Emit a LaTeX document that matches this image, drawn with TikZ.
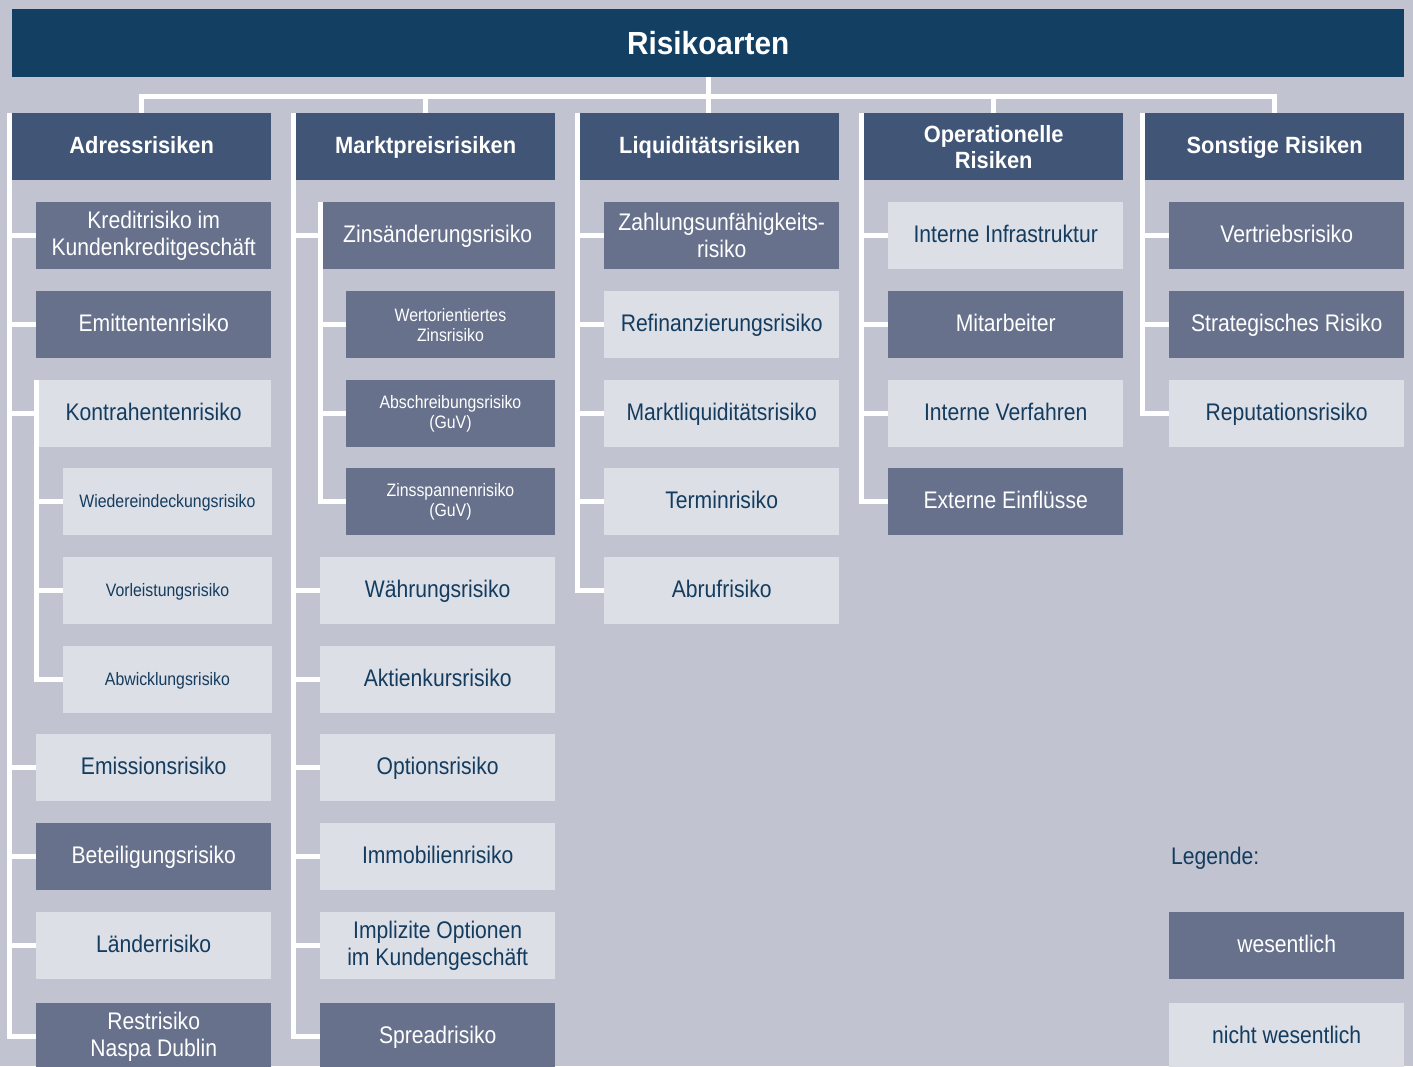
\documentclass[tikz,border=0pt]{standalone}
\usepackage{fontspec}
\setmainfont{Liberation Sans}[FakeStretch=0.88]
\newfontfamily\hdrfont{Liberation Sans}[FakeStretch=0.93]
\definecolor{cbg}{RGB}{193,195,208}
\definecolor{ctitle}{RGB}{19,63,99}
\definecolor{chdr}{RGB}{65,86,119}
\definecolor{cdark}{RGB}{103,113,140}
\definecolor{clight}{RGB}{220,223,230}
\definecolor{ctext}{RGB}{20,60,95}
\tikzset{
  box/.style={anchor=north west, inner sep=0pt, minimum width=235pt, minimum height=67pt, align=center, font=\fontsize{24}{27}\selectfont},
  dkm/.style={box, fill=cdark, text=white},
  ltm/.style={box, fill=clight, text=ctext},
  oneline/.style={text height=18pt, text depth=5pt},
  dk/.style={dkm, oneline},
  lt/.style={ltm, oneline},
  small/.style={minimum width=208.5pt, font=\fontsize{18}{20}\selectfont},
  smallone/.style={small, text height=15pt, text depth=4pt},
  hdrm/.style={anchor=north west, inner sep=0pt, minimum width=259pt, minimum height=67pt, fill=chdr, text=white, align=center, font=\hdrfont\bfseries\fontsize{23.5}{26}\selectfont},
  hdr/.style={hdrm, oneline},
  conn/.style={draw=white, line width=5pt}
}
\begin{document}
\begin{tikzpicture}[x=1pt,y=-1pt]
\fill[cbg] (0,0) rectangle (1413,1066);
\useasboundingbox (0,0) rectangle (1413,1066);
% title
\node[anchor=north west, inner sep=0pt, minimum width=1392pt, minimum height=68pt, fill=ctitle, text=white, font=\hdrfont\bfseries\fontsize{32}{36}\selectfont] (title) at (12,9) {Risikoarten};
% headers
\node[hdr] (h1) at (12,113) {Adressrisiken};
\node[hdr] (h2) at (296,113) {Marktpreisrisiken};
\node[hdr] (h3) at (580,113) {Liquiditätsrisiken};
\node[hdrm] (h4) at (864,113) {Operationelle\\Risiken};
\node[hdr] (h5) at (1145,113) {Sonstige Risiken};
% column 1
\node[dkm] (c1) at (36,202) {Kreditrisiko im\\Kundenkreditgeschäft};
\node[dk] (c2) at (36,291) {Emittentenrisiko};
\node[lt] (c3) at (36,380) {Kontrahentenrisiko};
\node[lt,smallone] (c3a) at (63,468) {Wiedereindeckungsrisiko};
\node[lt,smallone] (c3b) at (63,557) {Vorleistungsrisiko};
\node[lt,smallone] (c3c) at (63,646) {Abwicklungsrisiko};
\node[lt] (c4) at (36,734) {Emissionsrisiko};
\node[dk] (c5) at (36,823) {Beteiligungsrisiko};
\node[lt] (c6) at (36,912) {Länderrisiko};
\node[dkm] (c7) at (36,1003) {Restrisiko\\Naspa Dublin};
% column 2
\node[dk] (m1) at (320,202) {Zinsänderungsrisiko};
\node[dkm,small] (m1a) at (346,291) {Wertorientiertes\\Zinsrisiko};
\node[dkm,small] (m1b) at (346,380) {Abschreibungsrisiko\\(GuV)};
\node[dkm,small] (m1c) at (346,468) {Zinsspannenrisiko\\(GuV)};
\node[lt] (m2) at (320,557) {Währungsrisiko};
\node[lt] (m3) at (320,646) {Aktienkursrisiko};
\node[lt] (m4) at (320,734) {Optionsrisiko};
\node[lt] (m5) at (320,823) {Immobilienrisiko};
\node[ltm] (m6) at (320,912) {Implizite Optionen\\im Kundengeschäft};
\node[dk] (m7) at (320,1003) {Spreadrisiko};
% column 3
\node[dkm] (l1) at (604,202) {Zahlungsunfähigkeits-\\risiko};
\node[lt] (l2) at (604,291) {Refinanzierungsrisiko};
\node[lt] (l3) at (604,380) {Marktliquiditätsrisiko};
\node[lt] (l4) at (604,468) {Terminrisiko};
\node[lt] (l5) at (604,557) {Abrufrisiko};
% column 4
\node[lt] (o1) at (888,202) {Interne Infrastruktur};
\node[dk] (o2) at (888,291) {Mitarbeiter};
\node[lt] (o3) at (888,380) {Interne Verfahren};
\node[dk] (o4) at (888,468) {Externe Einflüsse};
% column 5
\node[dk] (s1) at (1169,202) {Vertriebsrisiko};
\node[dk] (s2) at (1169,291) {Strategisches Risiko};
\node[lt] (s3) at (1169,380) {Reputationsrisiko};
% legend
\node[anchor=base west, inner sep=0pt, text=ctext, font=\fontsize{24}{27}\selectfont] (leg) at (1171,864) {Legende:};
\node[dk] (lw) at (1169,912) {wesentlich};
\node[lt] (lnw) at (1169,1003) {nicht wesentlich};
% top connectors
\draw[conn] (h1.north) -- ++(0,-16.5) -| (h5.north);
\draw[conn] (title.south) -- (title.south |- h3.north);
\draw[conn] (h2.north) -- ++(0,-16.5);
\draw[conn] (h4.north) -- ++(0,-16.5);
% column 1 connectors
\foreach \n in {c1,c2,c3,c4,c5,c6,c7}
  \draw[conn] ([xshift=-2.5pt]h1.north west) |- (\n.west);
\foreach \n in {c3a,c3b,c3c}
  \draw[conn] ([xshift=0.5pt]c3.north west) |- (\n.west);
% column 2 connectors
\foreach \n in {m1,m2,m3,m4,m5,m6,m7}
  \draw[conn] ([xshift=-2.5pt]h2.north west) |- (\n.west);
\foreach \n in {m1a,m1b,m1c}
  \draw[conn] ([xshift=0.5pt]m1.north west) |- (\n.west);
% column 3 connectors
\foreach \n in {l1,l2,l3,l4,l5}
  \draw[conn] ([xshift=-2.5pt]h3.north west) |- (\n.west);
% column 4 connectors
\foreach \n in {o1,o2,o3,o4}
  \draw[conn] ([xshift=-2.5pt]h4.north west) |- (\n.west);
% column 5 connectors
\foreach \n in {s1,s2,s3}
  \draw[conn] ([xshift=-2.5pt]h5.north west) |- (\n.west);
\end{tikzpicture}
\end{document}
